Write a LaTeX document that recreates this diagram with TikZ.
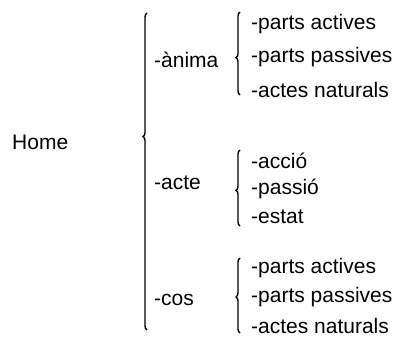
\documentclass[tikz,border=0pt]{standalone}
\usepackage{fontspec}
\setmainfont{Liberation Sans}
\usetikzlibrary{decorations.pathreplacing}

\tikzset{
  lbl/.style={anchor=west, inner sep=0pt, font=\fontsize{21}{25}\selectfont},
  bracel/.style={decorate, line width=1.4pt,
    decoration={brace, amplitude=4pt, aspect=#1}},
  bracel/.default=0.5
}

\begin{document}
\begin{tikzpicture}[x=1pt, y=-1pt]
% Background
\fill[white] (0,0) rectangle (404,337);
\useasboundingbox (0,0) rectangle (404,337);

% Root
\node[lbl] (home) at (12,142) {Home};

% Second level
\node[lbl] (anima) at (154,60) {-ànima};
\node[lbl] (acte) at (154,183) {-acte};
\node[lbl] (cos) at (154,300) {-cos};

% Third level
\foreach \txt [count=\i] in {-parts actives, -parts passives, -actes naturals}
  {\node[lbl] (anima\i) at (251, 24+33*\i-33) {\txt};}
\foreach \txt [count=\i] in {-acció, -passió, -estat}
  {\node[lbl] (acte\i) at (251, 161+28*\i-28) {\txt};}
\foreach \txt [count=\i] in {-parts actives, -parts passives, -actes naturals}
  {\node[lbl] (cos\i) at (251, 268+29*\i-29) {\txt};}

% Braces
\coordinate (bigtop) at (147,13);
\coordinate (bigbot) at (147,330);
\draw[bracel=0.61] (bigbot) -- (bigtop);

\coordinate (animatop) at (240,12);
\coordinate (animabot) at (240,95);
\draw[bracel=0.45] (animabot) -- (animatop);

\coordinate (actetop) at (240,150);
\coordinate (actebot) at (240,226);
\draw[bracel=0.47] (actebot) -- (actetop);

\coordinate (costop) at (240,258);
\coordinate (cosbot) at (240,333);
\draw[bracel=0.48] (cosbot) -- (costop);
\end{tikzpicture}
\end{document}
